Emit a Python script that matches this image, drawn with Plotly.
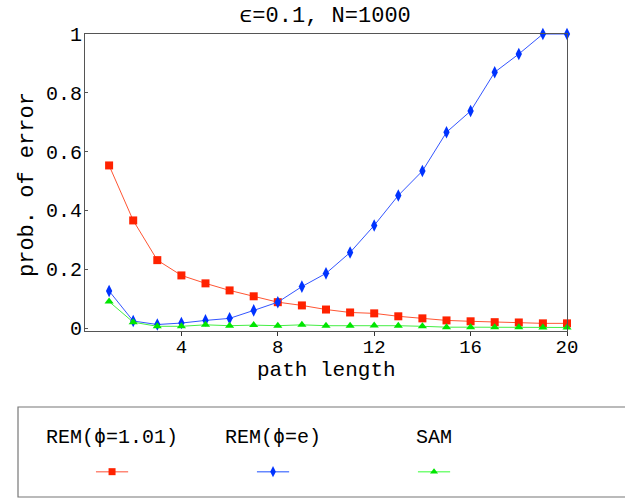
import plotly.graph_objects as go

path_length = list(range(1, 21))
rem_101 = [0.553, 0.366, 0.231, 0.179, 0.152, 0.128, 0.108, 0.088, 0.077, 0.063,
           0.053, 0.050, 0.040, 0.033, 0.026, 0.023, 0.020, 0.019, 0.016, 0.016]
rem_e = [0.126, 0.024, 0.012, 0.017, 0.026, 0.033, 0.060, 0.088, 0.141, 0.186,
         0.257, 0.349, 0.451, 0.534, 0.666, 0.738, 0.870, 0.932, 1.0, 1.0]
sam = [0.090, 0.020, 0.006, 0.006, 0.011, 0.008, 0.010, 0.008, 0.011, 0.008,
       0.008, 0.009, 0.008, 0.006, 0.003, 0.003, 0.003, 0.003, 0.002, 0.002]

series_names = ["REM(\u03d5=1.01)", "REM(\u03d5=e)", "SAM"]
series_values = [rem_101, rem_e, sam]
marker_colors = ["#ff2200", "#0033ff", "#00e600"]
line_colors = ["#ff5533", "#3355ff", "#44ee44"]
legend_line_colors = ["#ff8877", "#6688ff", "#77ff77"]
symbols = ["square", "diamond-tall", "triangle-up"]
sizes = [8, 9, 8]

x_ticks = [4, 8, 12, 16, 20]
y_ticks = [0, 0.2, 0.4, 0.6, 0.8, 1]
y_tick_labels = ["0", "0.2", "0.4", "0.6", "0.8", "1"]

FONT = "Liberation Mono, Courier New, monospace"

fig = go.Figure()
for name, vals, mc, lc, sym, sz in zip(series_names, series_values, marker_colors,
                                       line_colors, symbols, sizes):
    fig.add_trace(go.Scatter(
        x=path_length, y=vals, mode="lines+markers", name=name,
        line=dict(color=lc, width=1),
        marker=dict(color=mc, symbol=sym, size=sz, line=dict(width=0)),
        cliponaxis=False, showlegend=False, xaxis="x", yaxis="y"))

# custom legend: sample line + marker on a hidden axis, text above
for i, (name, mc, llc, sym, sz) in enumerate(zip(series_names, marker_colors,
                                                  legend_line_colors, symbols, sizes)):
    pos = i + 1
    fig.add_trace(go.Scatter(
        x=[pos - 0.1, pos + 0.1], y=[0.172, 0.172], mode="lines",
        line=dict(color=llc, width=1.5), showlegend=False, hoverinfo="skip",
        xaxis="x2", yaxis="y2"))
    fig.add_trace(go.Scatter(
        x=[pos], y=[0.172], mode="markers",
        marker=dict(color=mc, symbol=sym, size=sz - 1, line=dict(width=0)),
        showlegend=False, hoverinfo="skip", xaxis="x2", yaxis="y2"))
    fig.add_annotation(x=pos, y=0.394, xref="x2", yref="y2", text=name,
                       showarrow=False, font=dict(family=FONT, size=20, color="#000"),
                       xanchor="center", yanchor="middle")

main_bottom = (498 - 331) / 464

fig.update_layout(
    width=625, height=498,
    margin=dict(l=85, r=58, t=34, b=0),
    paper_bgcolor="white", plot_bgcolor="white",
    font=dict(family=FONT, size=19, color="#000"),
    title=dict(text="\u03f5=0.1, N=1000", x=(325 - 0) / 625, xanchor="center",
               y=1 - 14 / 498, yanchor="middle", yref="container",
               font=dict(family=FONT, size=22, color="#000")),
    xaxis=dict(range=[0, 20], tickvals=x_ticks, ticks="outside", ticklen=4,
               tickcolor="#333", showline=True, linecolor="#555", linewidth=1,
               mirror=True, showgrid=False, zeroline=False, anchor="y",
               automargin=False, ticklabelstandoff=-6,
               tickfont=dict(family=FONT, size=19)),
    yaxis=dict(range=[-0.01, 1], tickvals=y_ticks, ticktext=y_tick_labels,
               ticks="inside", ticklen=3, tickcolor="#555", showline=True,
               linecolor="#555", linewidth=1, mirror=True, showgrid=False,
               zeroline=False, domain=[main_bottom, 1], anchor="x",
               automargin=False, ticklabelstandoff=-2,
               tickfont=dict(family=FONT, size=20)),
    xaxis2=dict(range=[0.832, 3.826], visible=False, anchor="y2", domain=[0, 1],
                automargin=False),
    yaxis2=dict(range=[0, 1], visible=False, anchor="x2",
                domain=[0, 153 / 464], fixedrange=True, automargin=False),
)

fig.add_annotation(text="path length", x=0.5, y=(498 - 370) / 464, xref="paper",
                   yref="paper", showarrow=False,
                   font=dict(family=FONT, size=21, color="#000"),
                   xanchor="center", yanchor="middle")
fig.add_annotation(text="prob. of error", x=(27 - 85) / 482, y=(498 - 185) / 464,
                   xref="paper", yref="paper", showarrow=False, textangle=-90,
                   font=dict(family=FONT, size=22, color="#000"),
                   xanchor="center", yanchor="middle")

# legend box
fig.add_shape(type="rect", xref="paper", yref="paper",
              x0=(18 - 85) / 482, x1=1.3, y0=(498 - 497) / 464, y1=(498 - 407) / 464,
              line=dict(color="#777", width=1.2), fillcolor="rgba(0,0,0,0)")

fig.write_html("out.html",
               config={"displayModeBar": False},
               post_script="document.body.style.margin='0';"
                           "document.body.style.overflow='hidden';")
